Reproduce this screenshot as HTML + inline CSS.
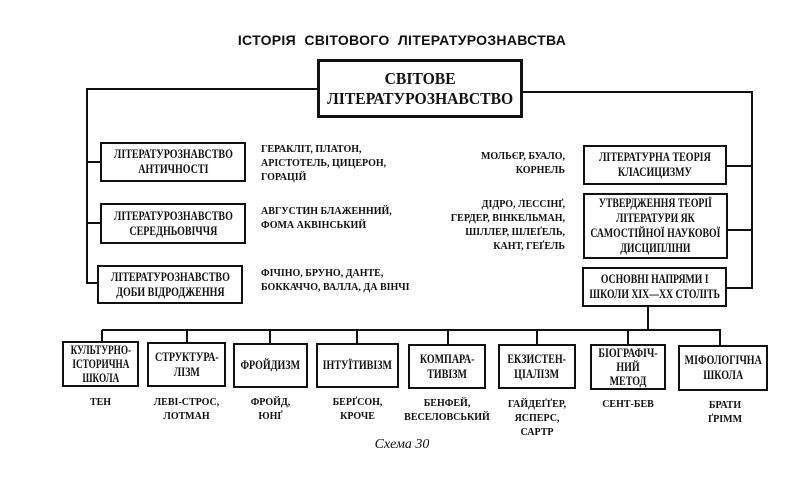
<!DOCTYPE html>
<html><head><meta charset="utf-8"><style>
body{margin:0;width:804px;height:478px;background:#fff;position:relative;overflow:hidden;font-family:"Liberation Serif",serif;color:#111}
.b{position:absolute;border:2px solid #111;box-sizing:border-box;display:flex;align-items:center;justify-content:center;text-align:center;font-weight:bold;font-size:12.5px;line-height:15px;white-space:nowrap}
.b span{display:inline-block;transform:scaleX(0.8)}
.t{position:absolute;font-weight:bold;font-size:10px;line-height:14px;white-space:nowrap}
.c{text-align:center}
svg{position:absolute;left:0;top:0}
</style></head><body>
<svg width="804" height="478"><g stroke="#111" stroke-width="2" fill="none">
<polyline points="317,89 87,89 87,283 97,283"/>
<line x1="87" y1="162" x2="100" y2="162"/><line x1="87" y1="223" x2="100" y2="223"/>
<polyline points="523,92 752,92 752,288 727,288"/>
<line x1="727" y1="166" x2="752" y2="166"/><line x1="728" y1="230" x2="752" y2="230"/>
<line x1="648" y1="307" x2="648" y2="330"/>
<line x1="102" y1="330" x2="721" y2="330"/>
<line x1="102" y1="330" x2="102" y2="341"/><line x1="187" y1="330" x2="187" y2="342"/>
<line x1="270" y1="330" x2="270" y2="343"/><line x1="357" y1="330" x2="357" y2="343"/>
<line x1="448" y1="330" x2="448" y2="344"/><line x1="537" y1="330" x2="537" y2="344"/>
<line x1="628" y1="330" x2="628" y2="344"/><line x1="720" y1="330" x2="720" y2="345"/>
</g></svg>
<div style="position:absolute;left:0;width:804px;top:32px;text-align:center;font-family:'Liberation Sans',sans-serif;font-weight:bold;font-size:14px;letter-spacing:0.3px">ІСТОРІЯ&nbsp; СВІТОВОГО&nbsp; ЛІТЕРАТУРОЗНАВСТВА</div>
<div class="b" style="left:317px;top:59px;width:206px;height:59px;border-width:3px;font-size:17px;line-height:20px"><span style="transform:scaleX(0.92)">СВІТОВЕ<br>ЛІТЕРАТУРОЗНАВСТВО</span></div>
<div class="b" style="left:100px;top:142px;width:146px;height:40px"><span>ЛІТЕРАТУРОЗНАВСТВО<br>АНТИЧНОСТІ</span></div>
<div class="b" style="left:100px;top:203px;width:146px;height:41px"><span>ЛІТЕРАТУРОЗНАВСТВО<br>СЕРЕДНЬОВІЧЧЯ</span></div>
<div class="b" style="left:97px;top:265px;width:146px;height:39px"><span>ЛІТЕРАТУРОЗНАВСТВО<br>ДОБИ ВІДРОДЖЕННЯ</span></div>
<div class="t" style="left:261px;top:143px">ГЕРАКЛІТ, ПЛАТОН,<br>АРІСТОТЕЛЬ, ЦИЦЕРОН,<br>ГОРАЦІЙ</div>
<div class="t" style="left:261px;top:205px">АВГУСТИН БЛАЖЕННИЙ,<br>ФОМА АКВІНСЬКИЙ</div>
<div class="t" style="left:261px;top:267px">ФІЧІНО, БРУНО, ДАНТЕ,<br>БОККАЧЧО, ВАЛЛА, ДА ВІНЧІ</div>
<div class="b" style="left:583px;top:145px;width:144px;height:40px"><span>ЛІТЕРАТУРНА ТЕОРІЯ<br>КЛАСИЦИЗМУ</span></div>
<div class="b" style="left:583px;top:193px;width:145px;height:66px"><span style="transform:scaleX(0.78)">УТВЕРДЖЕННЯ ТЕОРІЇ<br>ЛІТЕРАТУРИ ЯК<br>САМОСТІЙНОЇ НАУКОВОЇ<br>ДИСЦИПЛІНИ</span></div>
<div class="b" style="left:582px;top:267px;width:145px;height:40px"><span style="transform:scaleX(0.78)">ОСНОВНІ НАПРЯМИ І<br>ШКОЛИ XIX—XX СТОЛІТЬ</span></div>
<div class="t" style="right:239px;top:150px;text-align:right">МОЛЬЄР, БУАЛО,<br>КОРНЕЛЬ</div>
<div class="t" style="right:239px;top:198px;text-align:right">ДІДРО, ЛЕССІНҐ,<br>ГЕРДЕР, ВІНКЕЛЬМАН,<br>ШІЛЛЕР, ШЛЕҐЕЛЬ,<br>КАНТ, ГЕҐЕЛЬ</div>
<div class="b" style="left:62px;top:341px;width:77px;height:46px;line-height:14px"><span style="transform:scaleX(0.74)">КУЛЬТУРНО-<br>ІСТОРИЧНА<br>ШКОЛА</span></div>
<div class="b" style="left:147px;top:342px;width:79px;height:45px"><span>СТРУКТУРА-<br>ЛІЗМ</span></div>
<div class="b" style="left:233px;top:343px;width:75px;height:45px"><span>ФРОЙДИЗМ</span></div>
<div class="b" style="left:316px;top:343px;width:83px;height:45px"><span>ІНТУЇТИВІЗМ</span></div>
<div class="b" style="left:408px;top:344px;width:78px;height:45px"><span>КОМПАРА-<br>ТИВІЗМ</span></div>
<div class="b" style="left:498px;top:344px;width:78px;height:45px"><span>ЕКЗИСТЕН-<br>ЦІАЛІЗМ</span></div>
<div class="b" style="left:590px;top:344px;width:76px;height:46px;line-height:14px"><span>БІОГРАФІЧ-<br>НИЙ<br>МЕТОД</span></div>
<div class="b" style="left:678px;top:345px;width:90px;height:46px"><span>МІФОЛОГІЧНА<br>ШКОЛА</span></div>
<div class="t c" style="left:62px;width:77px;top:396px">ТЕН</div>
<div class="t c" style="left:142px;width:89px;top:396px">ЛЕВІ-СТРОС,<br>ЛОТМАН</div>
<div class="t c" style="left:228px;width:85px;top:396px">ФРОЙД,<br>ЮНҐ</div>
<div class="t c" style="left:313px;width:89px;top:396px">БЕРҐСОН,<br>КРОЧЕ</div>
<div class="t c" style="left:402px;width:90px;top:397px">БЕНФЕЙ,<br>ВЕСЕЛОВСЬКИЙ</div>
<div class="t c" style="left:492px;width:90px;top:398px">ГАЙДЕҐҐЕР,<br>ЯСПЕРС,<br>САРТР</div>
<div class="t c" style="left:583px;width:90px;top:398px">СЕНТ-БЕВ</div>
<div class="t c" style="left:680px;width:90px;top:399px">БРАТИ<br>ҐРІММ</div>
<div style="position:absolute;left:0;width:804px;top:437px;text-align:center;font-style:italic;font-size:14px">Схема 30</div>
</body></html>
